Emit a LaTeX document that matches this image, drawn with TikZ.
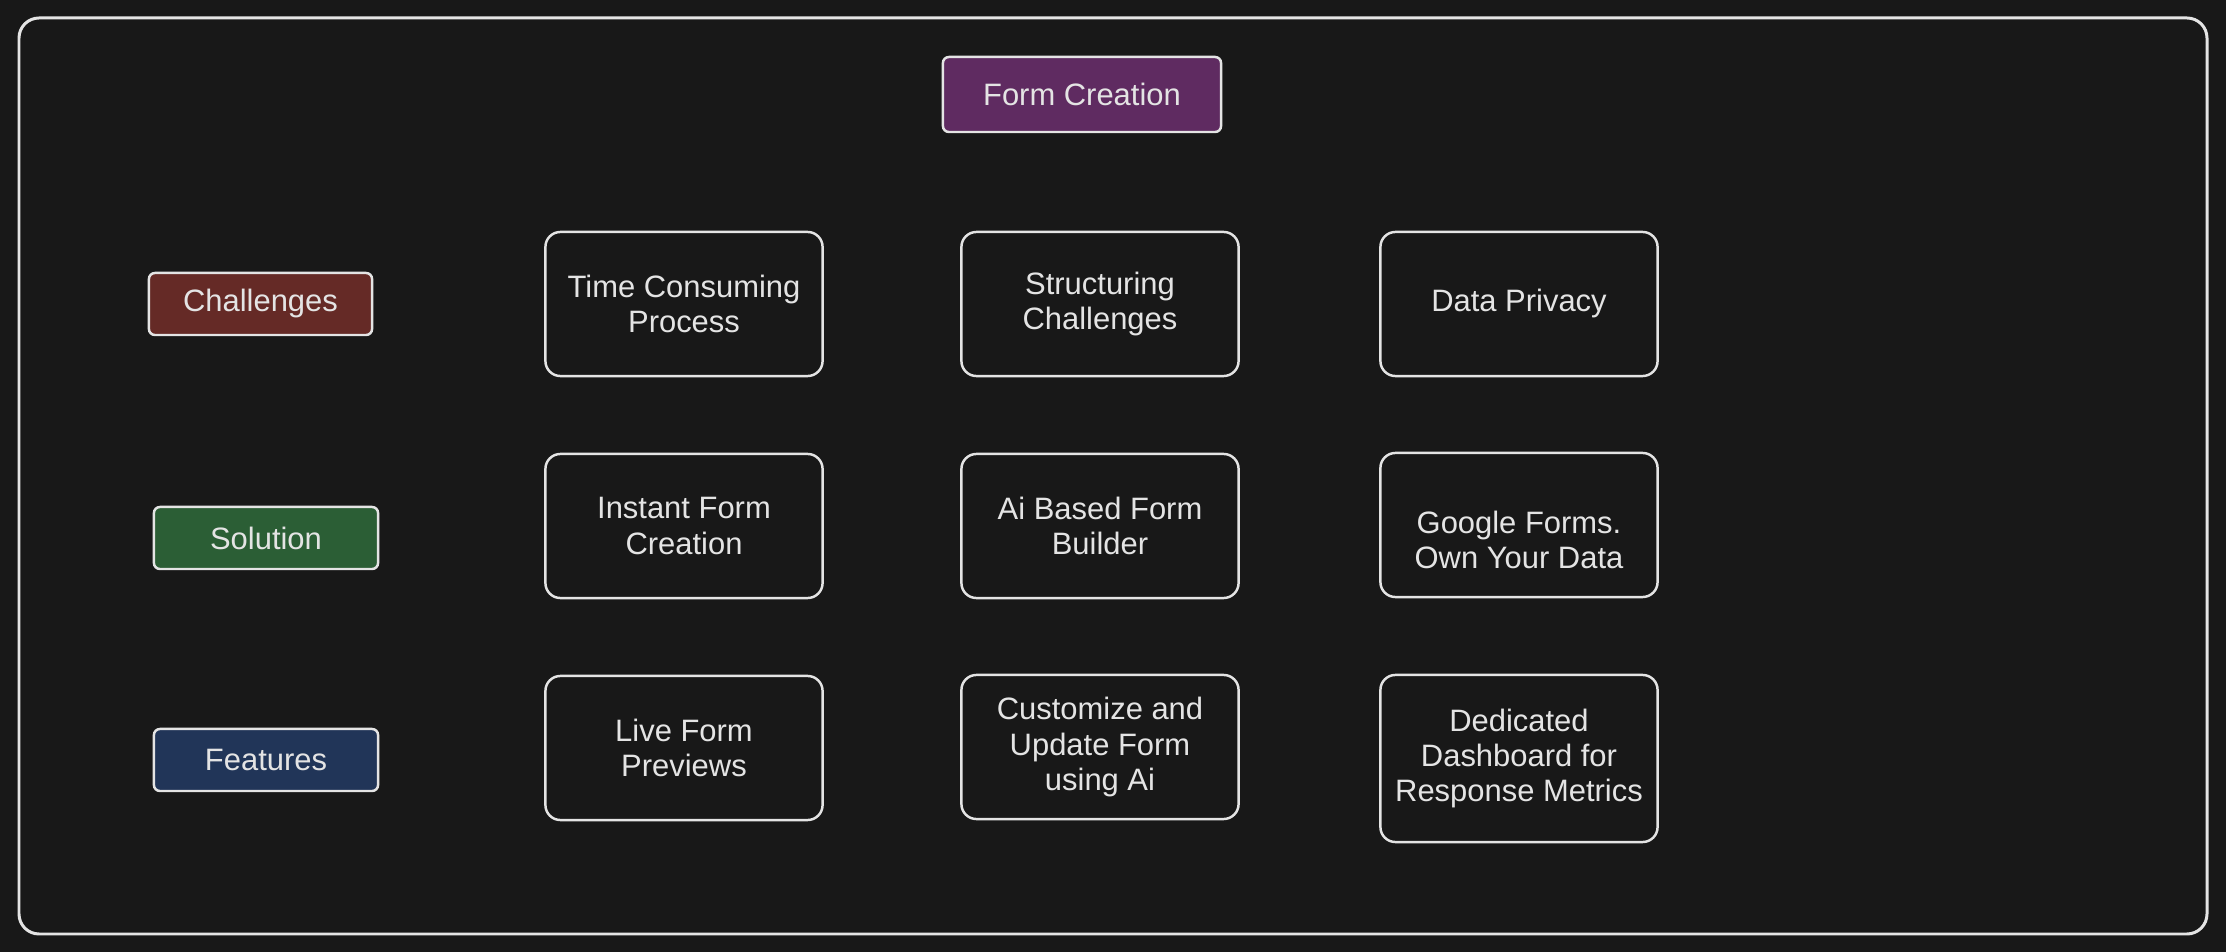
\documentclass[tikz,border=0pt]{standalone}
\usepackage{fontspec}
\setmainfont{Liberation Sans}
\usetikzlibrary{positioning}
\definecolor{canvas}{HTML}{181818}
\definecolor{ink}{HTML}{E4E4E4}
\definecolor{titlefill}{HTML}{5F2B61}
\definecolor{challfill}{HTML}{652A26}
\definecolor{solfill}{HTML}{2B5E35}
\definecolor{featfill}{HTML}{213558}

\begin{document}
\begin{tikzpicture}[x=0.01cm,y=-0.01cm,semithick]
	\tikzset{card/.style = {draw=ink,line width=0.7pt,rounded corners=0.15cm,minimum width=2.77cm,minimum height=1.44cm,inner sep=0pt,align=center,text=ink,font=\fontsize{8.8}{10}\selectfont}}
	\tikzset{tag/.style = {card,rounded corners=0.06cm,minimum width=2.23cm,minimum height=0.62cm}}

	% canvas and frame
	\fill[canvas] (0,0) rectangle (2226,952);
	\draw[ink,line width=0.85pt,rounded corners=0.2cm] (19,18) rectangle (2207,934);

	% title and row tags
	\node[tag,fill=titlefill,minimum width=2.78cm,minimum height=0.75cm] (form) at (1082,94.5) {Form Creation};
	\node[tag,fill=challfill] (chall) at (260.5,304) {Challenges};
	\node[tag,fill=solfill,minimum width=2.24cm] (sol) at (266,538) {Solution};
	\node[tag,fill=featfill,minimum width=2.24cm] (feat) at (266,760) {Features};

	% challenges
	\node[card] (time) at (684,304) {Time Consuming\\Process};
	\node[card] (struct) at (1100,304) {Structuring\\Challenges};
	\node[card] (privacy) at (1519,304) {Data Privacy};
	% solution
	\node[card] (instant) at (684,526) {Instant Form\\Creation};
	\node[card] (aibuild) at (1100,526) {Ai Based Form\\Builder};
	\node[card] (gforms) at (1519,525) {\raisebox{-0.27cm}[0pt][0pt]{\begin{tabular}{@{}c@{}}Google Forms.\\Own Your Data\end{tabular}}};
	% features
	\node[card] (preview) at (684,748) {Live Form\\Previews};
	\node[card] (custom) at (1100,747) {Customize and\\Update Form\\using Ai};
	\node[card,minimum height=1.67cm] (dash) at (1519,758.5) {Dedicated\\Dashboard for\\Response Metrics};
\end{tikzpicture}
\end{document}
